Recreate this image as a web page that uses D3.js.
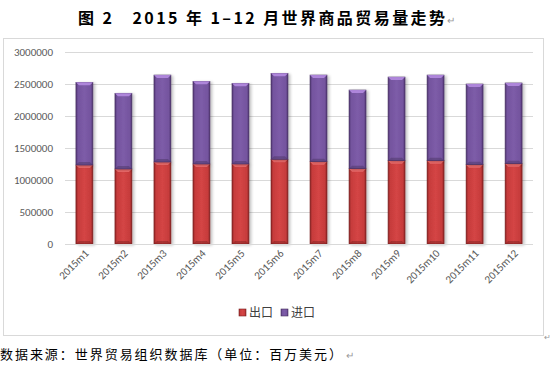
<!DOCTYPE html>
<html>
<head>
<meta charset="utf-8">
<script src="https://cdn.jsdelivr.net/npm/d3@7"></script>
<style>
  body { margin: 0; background: #fff; }
  svg { display: block; }
</style>
</head>
<body>
<div id="chart"></div>
<script>
// dimensions de la fenêtre
const width = 553;
const height = 365;

// données (millions USD)
const months = ["2015m1", "2015m2", "2015m3", "2015m4", "2015m5", "2015m6",
                "2015m7", "2015m8", "2015m9", "2015m10", "2015m11", "2015m12"];
const exportsVal = [1234000, 1172000, 1281000, 1250000, 1250000, 1323000,
                    1286000, 1177000, 1302000, 1302000, 1240000, 1255000];
const totalVal = [2526000, 2355000, 2640000, 2542000, 2511000, 2667000,
                  2640000, 2406000, 2609000, 2640000, 2500000, 2516000];
const importsVal = totalVal.map((t, i) => t - exportsVal[i]);
const yTicks = [0, 500000, 1000000, 1500000, 2000000, 2500000, 3000000];
const seriesNames = ["出口", "进口"];

const margin = { left: 65, right: 20, top: 52, bottom: 121 };
const plotW = 533 - margin.left;

const svg = d3.select("#chart").append("svg")
  .attr("width", width)
  .attr("height", height);

const defs = svg.append("defs");

// dégradés pour l'effet biseauté
function bevel(id, dark, mid, light) {
  const g = defs.append("linearGradient").attr("id", id)
    .attr("x1", 0).attr("x2", 1).attr("y1", 0).attr("y2", 0);
  g.append("stop").attr("offset", "0%").attr("stop-color", dark);
  g.append("stop").attr("offset", "12%").attr("stop-color", mid);
  g.append("stop").attr("offset", "50%").attr("stop-color", light);
  g.append("stop").attr("offset", "88%").attr("stop-color", mid);
  g.append("stop").attr("offset", "100%").attr("stop-color", dark);
}
bevel("gRed", "#8a2424", "#c63b3b", "#d44545");
bevel("gPur", "#4e3470", "#74549e", "#7d5ca8");

const shadow = defs.append("filter").attr("id", "shadow")
  .attr("x", "-50%").attr("y", "-10%").attr("width", "200%").attr("height", "120%");
shadow.append("feGaussianBlur").attr("in", "SourceAlpha").attr("stdDeviation", 1.5);
shadow.append("feOffset").attr("dx", 2).attr("dy", 1).attr("result", "b");
shadow.append("feComponentTransfer").append("feFuncA").attr("type", "linear").attr("slope", 0.25);
const mrg = shadow.append("feMerge");
mrg.append("feMergeNode");
mrg.append("feMergeNode").attr("in", "SourceGraphic");

// cadre du graphique
svg.append("rect")
  .attr("x", 3.5).attr("y", 38.5)
  .attr("width", 540).attr("height", 297)
  .attr("fill", "none").attr("stroke", "#d9d9d9");

// titre
svg.append("text")
  .attr("x", 78).attr("y", 24)
  .attr("textLength", 367)
  .attr("lengthAdjust", "spacing")
  .attr("font-family", "'Noto Sans CJK SC', sans-serif")
  .attr("font-weight", "bold")
  .attr("font-size", 16)
  .attr("fill", "#000")
  .text("图 2\u00a0\u00a0\u00a02015 年 1–12 月世界商品贸易量走势");
svg.append("text")
  .attr("x", 447).attr("y", 24)
  .attr("font-size", 10).attr("fill", "#999")
  .text("↵");

const x = d3.scaleBand()
  .domain(months)
  .range([margin.left, margin.left + plotW])
  .paddingInner(0.565)
  .paddingOuter(0.28);

const y = d3.scaleLinear()
  .domain([0, 3000000])
  .range([244, 52]);

// grille
svg.append("g")
  .selectAll("line")
  .data(yTicks)
  .join("line")
  .attr("x1", margin.left).attr("x2", margin.left + plotW)
  .attr("y1", d => Math.round(y(d)) + 0.5)
  .attr("y2", d => Math.round(y(d)) + 0.5)
  .attr("stroke", "#d9d9d9");

// axe Y
const yAxis = svg.append("g")
  .attr("transform", `translate(${margin.left - 12},0)`)
  .call(d3.axisLeft(y).tickValues(yTicks).tickSize(0).tickFormat(d3.format("d")));
yAxis.select(".domain").remove();
yAxis.selectAll("text")
  .attr("font-family", "Calibri, 'Liberation Sans', sans-serif")
  .attr("font-size", 11)
  .attr("fill", "#595959")
  .attr("dy", "0.35em")
  .attr("x", 0);

// piles
const stackData = months.map((m, i) => ({ month: m, exp: exportsVal[i], imp: importsVal[i] }));
const stack = d3.stack().keys(["exp", "imp"])(stackData);
const fills = ["url(#gRed)", "url(#gPur)"];
const caps = ["#f07070", "#b48be0"];
const edges = ["#7a1f1f", "#46305f"];

stack.forEach((layer, li) => {
  const g = svg.append("g").attr("filter", "url(#shadow)");
  const bars = g.selectAll("g")
    .data(layer)
    .join("g");
  bars.append("rect")
    .attr("x", d => x(d.data.month))
    .attr("y", d => y(d[1]))
    .attr("width", x.bandwidth())
    .attr("height", d => y(d[0]) - y(d[1]))
    .attr("fill", fills[li])
    .attr("stroke", edges[li])
    .attr("stroke-width", 0.6);
  // petit chapeau biseauté en haut
  bars.append("path")
    .attr("d", d => {
      const x0 = x(d.data.month), w = x.bandwidth(), t = y(d[1]);
      return `M${x0},${t} L${x0 + w},${t} L${x0 + w - 3},${t + 3} L${x0 + 3},${t + 3} Z`;
    })
    .attr("fill", caps[li])
    .attr("opacity", 0.9);
  // bord inférieur sombre
  bars.append("path")
    .attr("d", d => {
      const x0 = x(d.data.month), w = x.bandwidth(), b = y(d[0]);
      return `M${x0},${b} L${x0 + w},${b} L${x0 + w - 3},${b - 3} L${x0 + 3},${b - 3} Z`;
    })
    .attr("fill", edges[li])
    .attr("opacity", 0.45);
});

// axe X
svg.append("line")
  .attr("x1", margin.left).attr("x2", margin.left + plotW)
  .attr("y1", 244.5).attr("y2", 244.5)
  .attr("stroke", "#d9d9d9");

svg.append("g")
  .selectAll("text")
  .data(months)
  .join("text")
  .attr("transform", d => `translate(${x(d) + x.bandwidth() / 2 + 5},${254}) rotate(-45)`)
  .attr("text-anchor", "end")
  .attr("font-family", "Calibri, 'Liberation Sans', sans-serif")
  .attr("font-size", 11)
  .attr("fill", "#595959")
  .text(d => d);

// légende
const legend = svg.append("g").attr("transform", "translate(239,307)");
const legX = [0, 42];
seriesNames.forEach((name, i) => {
  const lg = legend.append("g").attr("transform", `translate(${legX[i]},0)`);
  lg.append("rect")
    .attr("width", 7).attr("height", 7).attr("y", 2)
    .attr("fill", fills[i]).attr("stroke", edges[i]).attr("stroke-width", 0.6);
  lg.append("text")
    .attr("x", 10).attr("y", 10)
    .attr("font-family", "'Noto Sans CJK SC', sans-serif")
    .attr("font-size", 12)
    .attr("fill", "#404040")
    .text(name);
});

// source
svg.append("text")
  .attr("x", 0).attr("y", 359)
  .attr("textLength", 342)
  .attr("lengthAdjust", "spacing")
  .attr("font-family", "'Noto Sans CJK SC', sans-serif")
  .attr("font-size", 13)
  .attr("fill", "#000")
  .text("数据来源：世界贸易组织数据库（单位：百万美元）");
svg.append("text")
  .attr("x", 346).attr("y", 359)
  .attr("font-size", 10).attr("fill", "#999")
  .text("↵");
svg.append("text")
  .attr("x", 544).attr("y", 340)
  .attr("font-size", 8).attr("fill", "#999")
  .text("↵");
</script>
</body>
</html>
